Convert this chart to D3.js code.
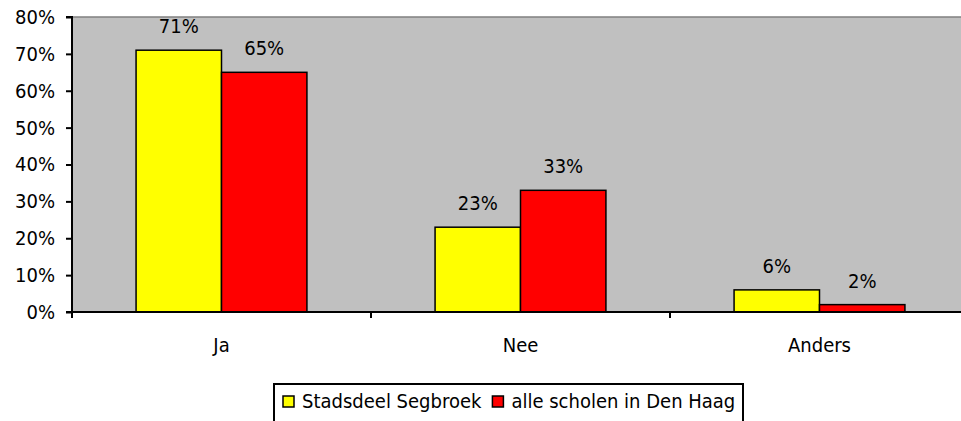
<!DOCTYPE html>
<html><head><meta charset="utf-8">
<script src="https://cdn.jsdelivr.net/npm/d3@7"></script>
<style>html,body{margin:0;padding:0;background:#fff;overflow:hidden}</style>
</head><body>
<svg id="c" width="961" height="421"></svg>
<script>
const categories = ["Ja", "Nee", "Anders"];
const seriesNames = ["Stadsdeel Segbroek", "alle scholen in Den Haag"];
const segbroek = [0.71, 0.23, 0.06];
const denHaag = [0.65, 0.33, 0.02];
const yTicks = [0, 0.1, 0.2, 0.3, 0.4, 0.5, 0.6, 0.7, 0.8];
const colors = ["#FFFF00", "#FF0000"];

const font = "'DejaVu Sans Condensed', 'DejaVu Sans', Tahoma, sans-serif";
const fs = 20;
const svg = d3.select("#c");
const L = 72, T = 17, B = 312, R = 969;

const x0 = d3.scaleBand().domain(categories).range([L, R]).padding(0);
const x1 = d3.scaleBand().domain([0, 1]).range([0, x0.bandwidth()]).paddingInner(0).paddingOuter(0.75);
const y = d3.scaleLinear().domain([0, 0.8]).range([B, T]);

svg.append("rect").attr("x", L).attr("y", T).attr("width", R - L).attr("height", B - T)
  .attr("fill", "#C0C0C0").attr("stroke", "#808080").attr("stroke-width", 1.5);

const data = [segbroek, denHaag];
const g = svg.append("g");
categories.forEach((c, i) => {
  data.forEach((s, j) => {
    g.append("rect")
      .attr("x", x0(c) + x1(j))
      .attr("y", y(s[i]))
      .attr("width", x1.bandwidth())
      .attr("height", B - y(s[i]))
      .attr("fill", colors[j]).attr("stroke", "#000").attr("stroke-width", 1.5);
    g.append("text")
      .attr("x", x0(c) + x1(j) + x1.bandwidth() / 2)
      .attr("y", y(s[i]) - 17)
      .attr("text-anchor", "middle")
      .attr("font-family", font).attr("font-size", fs)
      .text(d3.format(".0%")(s[i]));
  });
});

// Y axis
const yAxis = d3.axisLeft(y).tickValues(yTicks).tickFormat(d3.format(".0%")).tickSize(6).tickPadding(11);
const ya = svg.append("g").attr("transform", `translate(${L},0)`).call(yAxis);
ya.select(".domain").attr("stroke", "#000").attr("stroke-width", 2).attr("d", `M-6,${T}H0V${B}H-6`);
ya.selectAll(".tick line").attr("stroke", "#000").attr("stroke-width", 2);
ya.selectAll(".tick text").attr("font-family", font).attr("font-size", fs).attr("fill", "#000");

// X axis
const xa = svg.append("g").attr("transform", `translate(0,${B})`);
xa.append("line").attr("x1", L).attr("x2", R).attr("y1", 0).attr("y2", 0).attr("stroke", "#000").attr("stroke-width", 2);
const xTickPos = [L].concat(categories.map(c => x0(c) + x0.bandwidth()));
xa.selectAll("line.t").data(xTickPos).enter().append("line").attr("class", "t")
  .attr("x1", d => d).attr("x2", d => d).attr("y1", 0).attr("y2", 6)
  .attr("stroke", "#000").attr("stroke-width", 2);
xa.selectAll("text").data(categories).enter().append("text")
  .attr("x", d => x0(d) + x0.bandwidth() / 2).attr("y", 40)
  .attr("text-anchor", "middle").attr("font-family", font).attr("font-size", fs)
  .text(d => d);

// Legend
const lg = svg.append("g");
lg.append("rect").attr("x", 274).attr("y", 384).attr("width", 469).attr("height", 60)
  .attr("fill", "#fff").attr("stroke", "#000").attr("stroke-width", 2);
let lx = 283;
seriesNames.forEach((n, j) => {
  lg.append("rect").attr("x", lx).attr("y", 396).attr("width", 11).attr("height", 11)
    .attr("fill", colors[j]).attr("stroke", "#000").attr("stroke-width", 1.5);
  const t = lg.append("text").attr("x", lx + 19).attr("y", 408)
    .attr("font-family", font).attr("font-size", fs).text(n);
  lx += 19 + t.node().getComputedTextLength() + 11;
});
</script>
</body></html>
